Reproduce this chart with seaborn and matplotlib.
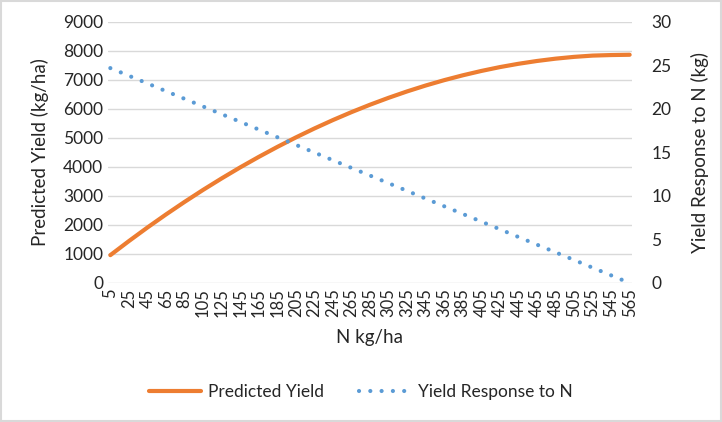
import numpy as np
import pandas as pd
import matplotlib
matplotlib.use("Agg")
import matplotlib.pyplot as plt
from matplotlib.patches import Rectangle
import seaborn as sns

# N rate (kg/ha) and values
n_rate = [5, 25, 45, 65, 85, 105, 125, 145, 165, 185, 205, 225, 245, 265, 285,
          305, 325, 345, 365, 385, 405, 425, 445, 465, 485, 505, 525, 545, 565]
predicted_yield = [960, 1445, 1913, 2363, 2795, 3210, 3606, 3986, 4347, 4691,
                   5018, 5327, 5618, 5891, 6147, 6385, 6606, 6809, 6994, 7161,
                   7311, 7444, 7558, 7655, 7735, 7797, 7841, 7860, 7870]
yield_response = [24.7, 23.82, 22.94, 22.05, 21.17, 20.29, 19.41, 18.53, 17.64,
                  16.76, 15.88, 15.0, 14.11, 13.23, 12.35, 11.47, 10.59, 9.70,
                  8.82, 7.94, 7.06, 6.18, 5.29, 4.41, 3.53, 2.65, 1.76, 0.88, 0.0]

ORANGE = "#ED7D31"
BLUE = "#5B9BD5"
GRID = "#D9D9D9"
TEXT = "#262626"

sns.set_theme(style="white")
plt.rcParams["font.family"] = ["Lato", "DejaVu Sans"]

df = pd.DataFrame({"N": n_rate, "yield": predicted_yield, "resp": yield_response})

fig = plt.figure(figsize=(7.22, 4.22), dpi=100)
ax = fig.add_axes([0.1496, 0.3294, 0.7257, 0.6185])
ax2 = ax.twinx()

sns.lineplot(data=df, x="N", y="yield", ax=ax, color=ORANGE, lw=3,
             label="Predicted Yield", legend=False, zorder=3)
sns.lineplot(data=df, x="N", y="resp", ax=ax2, color=BLUE, lw=3,
             label="Yield Response to N", legend=False)
ax2.lines[0].set_linestyle((0, (0.01, 2.7)))
ax2.lines[0].set_dash_capstyle("round")

ax.set_xlim(2.5, 567.5)
ax.set_ylim(0, 9000)
ax.set_yticks(range(0, 9001, 1000))
ax2.set_ylim(0, 30)
ax2.set_yticks(range(0, 31, 5))
ax.set_xticks(n_rate)
ax.set_xticklabels([str(v) for v in n_rate], rotation=90)

ax.grid(axis="y", color=GRID, lw=1)
ax.set_axisbelow(True)
for a in (ax, ax2):
    for s in a.spines.values():
        s.set_visible(False)
    a.tick_params(length=0, colors=TEXT, labelsize=12.5)
ax.tick_params(axis="x", labelsize=12, pad=4)
ax2.tick_params(axis="y", pad=14)

ax.set_xlabel("N kg/ha", fontsize=13.5, color=TEXT, labelpad=8)
ax.set_ylabel("Predicted Yield (kg/ha)", fontsize=13.5, color=TEXT, labelpad=10)
ax2.set_ylabel("Yield Response to N (kg)", fontsize=13.5, color=TEXT, labelpad=14)

h1, l1 = ax.get_legend_handles_labels()
h2, l2 = ax2.get_legend_handles_labels()
fig.legend(h1 + h2, l1 + l2, loc="center", bbox_to_anchor=(0.5, 0.07), ncol=2,
           frameon=False, fontsize=12.5, handlelength=3.0, handletextpad=0.4,
           columnspacing=2.0, labelcolor=TEXT)

fig.patches.append(Rectangle((0.002, 0.003), 0.996, 0.994, transform=fig.transFigure,
                             fill=False, edgecolor=GRID, lw=1.5))

fig.savefig("out.png", dpi=100, facecolor="white")
